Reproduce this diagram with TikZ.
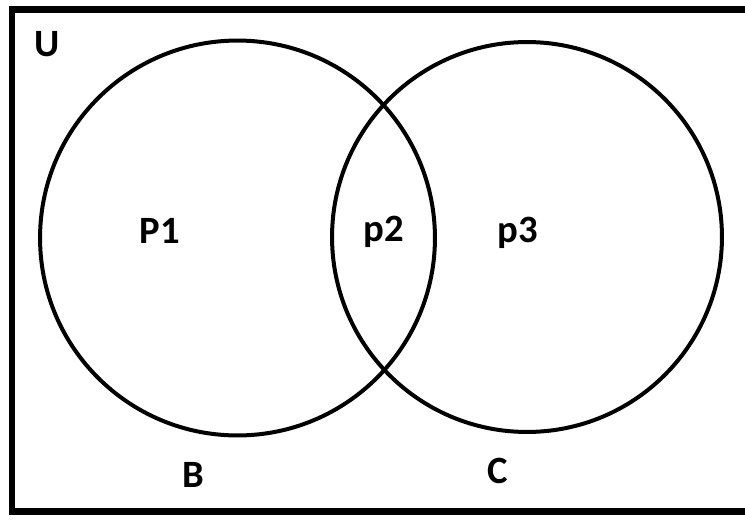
\documentclass[tikz,border=0pt]{standalone}
\usepackage{fontspec}
\setsansfont{Carlito}
\usepackage{tikz}
\tikzset{setcirc/.style={circle, draw, line width=0.08cm, inner sep=0pt}}
\tikzset{lab/.style={anchor=base, font=\sffamily\bfseries\fontsize{22}{26}\selectfont, inner sep=0pt}}

\begin{document}
\begin{tikzpicture}[x=0.02cm, y=-0.02cm]
\useasboundingbox (0,0) rectangle (745,521);
\clip (0,0) rectangle (745,521);
\draw[line width=0.14cm] (12,9) rectangle (770,511.5);
\node[setcirc, minimum size=7.9cm] (B) at (237.5,238) {};
\node[setcirc, minimum size=7.8cm] (C) at (527,237) {};
\node[lab] (U) at (47,56) {U};
\node[lab] (P1) at (160,243) {P1};
\node[lab] (p2) at (384,241) {p2};
\node[lab] (p3) at (518,242) {p3};
\node[lab] (labB) at (193,487) {B};
\node[lab] (labC) at (498,483) {C};
\end{tikzpicture}
\end{document}
